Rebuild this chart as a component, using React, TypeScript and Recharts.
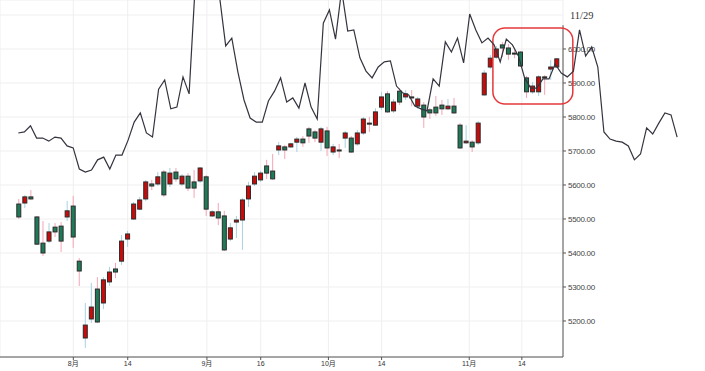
// K-line chart with overlaid index line and annotation box

import {
  ComposedChart, LineChart, Line, Bar, XAxis, YAxis, CartesianGrid,
  ReferenceLine, ReferenceArea,
} from 'recharts'

// ── data ────────────────────────────────────────────────────────────────────
const OPEN = [
  5544, 5547, 5565, 5506, 5429, 5435, 5476, 5479, 5506, 5538,
  5376, 5150, 5206, 5294, 5253, 5315, 5353, 5376, 5441, 5500,
  5529, 5559, 5603, 5603, 5638, 5603, 5638, 5603, 5626, 5609,
  5612, 5624, 5509, 5521, 5509, 5441, 5491, 5497, 5559, 5603,
  5615, 5656, 5641, 5703, 5712, 5712, 5726, 5735, 5765, 5756,
  5726, 5759, 5697, 5703, 5738, 5738, 5721, 5753, 5782, 5776,
  5829, 5868, 5818, 5876, 5859, 5859, 5832, 5835, 5821, 5829,
  5835, 5824, 5832, 5776, 5724, 5726, 5724, 5865, 5947, 5976,
  6012, 6003, 5988, 5991, 5915, 5874, 5874, 5918, 5941, 5947,
]
const CLOSE = [
  5506, 5565, 5559, 5426, 5400, 5462, 5462, 5435, 5524, 5447,
  5347, 5188, 5241, 5197, 5321, 5344, 5344, 5435, 5456, 5544,
  5556, 5609, 5597, 5624, 5571, 5635, 5618, 5626, 5591, 5591,
  5650, 5529, 5521, 5503, 5409, 5474, 5497, 5556, 5597, 5626,
  5635, 5635, 5618, 5715, 5703, 5721, 5735, 5724, 5744, 5738,
  5765, 5709, 5712, 5700, 5753, 5697, 5753, 5794, 5779, 5815,
  5859, 5815, 5844, 5844, 5868, 5856, 5853, 5800, 5812, 5812,
  5824, 5832, 5812, 5709, 5729, 5712, 5782, 5929, 5973, 6000,
  6003, 5985, 5985, 5950, 5874, 5891, 5918, 5915, 5947, 5971,
]
const HIGH = [
  5559, 5571, 5585, 5509, 5494, 5488, 5488, 5491, 5553, 5568,
  5385, 5253, 5312, 5329, 5329, 5359, 5371, 5453, 5465, 5550,
  5565, 5615, 5615, 5638, 5644, 5650, 5650, 5632, 5635, 5644,
  5653, 5629, 5526, 5547, 5524, 5488, 5509, 5562, 5609, 5638,
  5641, 5674, 5691, 5726, 5718, 5724, 5741, 5744, 5771, 5762,
  5771, 5771, 5721, 5721, 5759, 5744, 5762, 5800, 5800, 5826,
  5874, 5876, 5853, 5885, 5879, 5879, 5859, 5844, 5826, 5862,
  5850, 5853, 5856, 5782, 5776, 5732, 5788, 5938, 5982, 6009,
  6021, 6015, 5997, 5994, 5921, 5903, 5923, 5923, 5968, 5973,
]
const LOW = [
  5500, 5532, 5556, 5424, 5391, 5429, 5447, 5403, 5494, 5415,
  5303, 5121, 5194, 5194, 5235, 5303, 5326, 5365, 5418, 5497,
  5526, 5553, 5585, 5597, 5565, 5594, 5609, 5597, 5582, 5562,
  5606, 5509, 5506, 5482, 5406, 5435, 5444, 5409, 5535, 5597,
  5609, 5618, 5615, 5688, 5676, 5709, 5697, 5712, 5724, 5726,
  5700, 5685, 5688, 5679, 5709, 5694, 5715, 5747, 5756, 5774,
  5821, 5812, 5812, 5835, 5850, 5832, 5824, 5768, 5794, 5803,
  5806, 5821, 5809, 5706, 5721, 5697, 5718, 5862, 5941, 5971,
  5976, 5968, 5973, 5947, 5856, 5868, 5862, 5865, 5909, 5944,
]

// overlaid index line (own x spacing, runs past the price axis)
const LINE = [
  5753, 5756, 5774, 5738, 5738, 5729, 5741, 5738, 5715, 5709,
  5647, 5638, 5644, 5674, 5682, 5647, 5688, 5688, 5732, 5785,
  5812, 5753, 5741, 5882, 5909, 5824, 5829, 5918, 5868,
  6188, 6262, 6291, 6247, 6153,
  6009, 6032, 5932, 5850, 5797, 5785,
  5785, 5847, 5876, 5915, 5844, 5856, 5826, 5900, 5829, 5794,
  6076, 6115, 6029, 6174, 6053, 6056, 5974, 5935, 5915, 5947,
  5962, 5965, 5891, 5871, 5865, 5832, 5824, 5818, 5912, 5891,
  6021, 5991, 6032, 5959, 6103, 6056, 6018, 6032, 6012, 5962,
  6029, 6012, 5979, 5915, 5885, 5885, 5912, 5912, 5956, 5929,
  5918, 5935, 6056, 5979, 6006, 5947, 5756, 5735, 5729, 5726,
  5715, 5674, 5691, 5768, 5750, 5782, 5812, 5806, 5741,
]

const X_TICK_AT    = [9.1, 18.1, 31.2, 40.1, 51.3, 60.1, 74.6, 83.3]
const X_TICK_LABEL = ['8月', '14', '9月', '16', '10月', '14', '11月', '14']
const Y_TICKS      = [5200, 5300, 5400, 5500, 5600, 5700, 5800, 5900, 6000, 6100]
const TOP_LABEL    = '11/29'

// annotation box (line-chart coords) and axis extents
const BOX = { x1: 77.8, x2: 90.9, y1: 5838, y2: 6062 }
const Y_DOMAIN: [number, number] = [5094.1, 6144.1]
const X_DOMAIN: [number, number] = [-3.03, 90.11]
const LINE_X_DOMAIN: [number, number] = [-3, 112.57]
const AXIS_TOP = 6070

const candles = OPEN.map((o, i) => ({ i, open: o, close: CLOSE[i], high: HIGH[i], low: LOW[i] }))
const lineData = LINE.map((v, i) => ({ i, v }))

// ── styles ──────────────────────────────────────────────────────────────────
const RED    = '#cc0a0a'
const GREEN  = '#1f7a58'
const BORDER = '#2b2b2b'
const PINK   = '#f3a5b6'
const BLUE   = '#a7d1de'
const AXIS   = '#555'
const GRID   = '#efefef'
const SANS   = "'Liberation Sans', Arial, 'Noto Sans CJK SC', sans-serif"

function Candle(props: any) {
  const { x, y, width, height, payload } = props
  if (x == null || !payload) return null
  const { open, close, high, low } = payload
  const top = Math.min(y, y + height)
  const h = Math.abs(height)
  const ppu = h / (high - low || 1)
  const yOf = (v: number) => top + (high - v) * ppu
  const up = close >= open
  const cx = x + width / 2
  const bTop = yOf(Math.max(open, close))
  const bBot = yOf(Math.min(open, close))
  return (
    <g>
      <line x1={cx} x2={cx} y1={top} y2={top + h} stroke={up ? BLUE : PINK} strokeWidth={1} />
      <rect x={x + 0.5} y={bTop} width={width - 1} height={Math.max(bBot - bTop, 1)}
        fill={up ? RED : GREEN} stroke={BORDER} strokeWidth={1} />
    </g>
  )
}

function YTick(props: any) {
  const { x, y, payload } = props
  const v = payload.value as number
  if (v === Y_TICKS[Y_TICKS.length - 1]) {
    return (
      <text x={x + 2} y={y} dy="0.35em" fontFamily="'Liberation Serif', serif"
        fontSize={10.5} fill="#333">{TOP_LABEL}</text>
    )
  }
  return (
    <g>
      <line x1={x - 5} x2={x - 2} y1={y} y2={y} stroke={AXIS} />
      <text x={x} y={y} dy="0.35em" fontFamily={SANS} fontSize={8}
        letterSpacing={-0.3} fill="#444">{v.toFixed(2)}</text>
    </g>
  )
}

export default function App() {
  return (
    <div style={{ position: 'absolute', left: 0, top: 0, width: 705, height: 371, background: '#fff' }}>
      <ComposedChart width={705} height={371} data={candles}
        margin={{ top: 0, right: 0, bottom: 0, left: 0 }}>
        <CartesianGrid stroke={GRID} />
        <XAxis type="number" dataKey="i" domain={X_DOMAIN} allowDataOverflow
          ticks={X_TICK_AT} interval={0} height={14}
          tickFormatter={(v: number) => X_TICK_LABEL[X_TICK_AT.indexOf(v)] ?? ''}
          tick={{ fontSize: 7, fill: '#333', fontFamily: SANS }}
          tickSize={3} tickMargin={1}
          axisLine={{ stroke: AXIS }} tickLine={{ stroke: AXIS }} />
        <YAxis orientation="right" domain={Y_DOMAIN} allowDataOverflow ticks={Y_TICKS}
          interval={0} width={142} axisLine={false} tickLine={false}
          tickSize={3} tickMargin={2} tick={<YTick />} />
        <ReferenceLine segment={[{ x: X_DOMAIN[1], y: AXIS_TOP }, { x: X_DOMAIN[1], y: Y_DOMAIN[0] }]}
          stroke={AXIS} ifOverflow="visible" />
        <Bar dataKey={(d: any) => [d.low, d.high]} barSize={5} shape={<Candle />}
          isAnimationActive={false} />
      </ComposedChart>

      <div style={{ position: 'absolute', left: 0, top: 0, pointerEvents: 'none' }}>
        <LineChart width={705} height={357} data={lineData}
          margin={{ top: 0, right: 0, bottom: 0, left: 0 }}>
          <XAxis type="number" dataKey="i" hide domain={LINE_X_DOMAIN} allowDataOverflow />
          <YAxis hide domain={Y_DOMAIN} allowDataOverflow />
          <Line type="linear" dataKey="v" stroke="#34343f" strokeWidth={1.2}
            dot={false} isAnimationActive={false} />
          <ReferenceArea x1={BOX.x1} x2={BOX.x2} y1={BOX.y1} y2={BOX.y2}
            shape={(p: any) => (
              <rect x={p.x} y={p.y} width={p.width} height={p.height} rx={12} ry={12}
                fill="none" stroke="#e5383b" strokeWidth={1.5} />
            )} />
        </LineChart>
      </div>
    </div>
  )
}
